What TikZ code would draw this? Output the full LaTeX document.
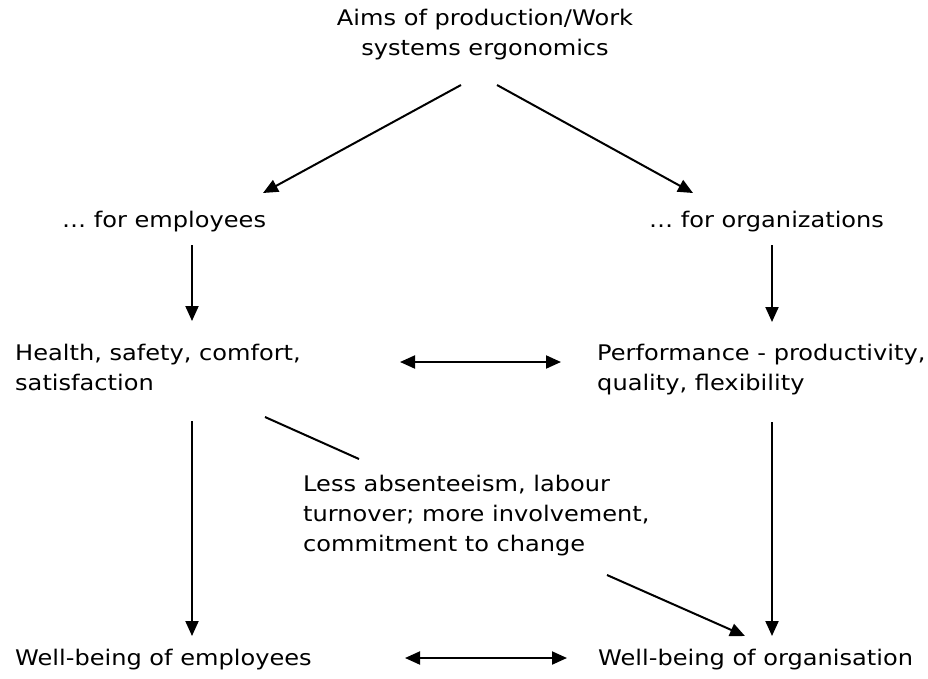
\documentclass[tikz,border=0pt]{standalone}
\usepackage{fontspec}
\setmainfont{DejaVu Sans}[FakeStretch=1.12]
\usetikzlibrary{arrows.meta}
\begin{document}
\begin{tikzpicture}[x=1pt,y=-1pt,
  lbl/.style={inner sep=0pt,align=left,font=\fontsize{21.5}{30}\selectfont},
  ctr/.style={inner sep=0pt,align=center,font=\fontsize{21.5}{30}\selectfont},
  conn/.style={line width=2pt},
  arr/.style={conn,-{Triangle[length=15pt,width=13pt]}},
  darr/.style={conn,{Triangle[length=15pt,width=13pt]}-{Triangle[length=15pt,width=13pt]}}]
\useasboundingbox (0,0) rectangle (928,678);
% base anchor of a multi-line node lies on its last line
\node[ctr,anchor=base] (aims) at (485,55) {Aims of production/Work\\systems ergonomics};
\node[lbl,anchor=base west] (femp) at (62,227) {\dots\ for employees};
\node[lbl,anchor=base west] (forg) at (649,227) {\dots\ for organizations};
\node[lbl,anchor=base west] (hlth) at (15,390) {Health, safety, comfort,\\satisfaction};
\node[lbl,anchor=base west] (perf) at (597,390) {Performance - productivity,\\quality, flexibility};
\node[lbl,anchor=base west] (less) at (303,551) {Less absenteeism, labour\\turnover; more involvement,\\commitment to change};
\node[lbl,anchor=base west] (wemp) at (15,665) {Well-being of employees};
\node[lbl,anchor=base west] (worg) at (598,665) {Well-being of organisation};
% coordinates for connector ends
\coordinate (a1) at (461,85); \coordinate (a1e) at (263,193);
\coordinate (a2) at (497,85); \coordinate (a2e) at (693,193);
\coordinate (v1) at (192,245); \coordinate (v1e) at (192,321);
\coordinate (v2) at (772,245); \coordinate (v2e) at (772,322);
\coordinate (h1) at (400,362); \coordinate (h1e) at (561,362);
\coordinate (v3) at (192,421); \coordinate (v3e) at (192,636);
\coordinate (v4) at (772,422); \coordinate (v4e) at (772,636);
\coordinate (d1) at (265,417); \coordinate (d1e) at (359,459);
\coordinate (d2) at (607,575); \coordinate (d2e) at (745,636);
\coordinate (b1) at (405,658); \coordinate (b1e) at (567,658);
\draw[arr] (a1) -- (a1e);
\draw[arr] (a2) -- (a2e);
\draw[arr] (v1) -- (v1e);
\draw[arr] (v2) -- (v2e);
\draw[darr] (h1) -- (h1e);
\draw[arr] (v3) -- (v3e);
\draw[arr] (v4) -- (v4e);
\draw[conn] (d1) -- (d1e);
\draw[arr] (d2) -- (d2e);
\draw[darr] (b1) -- (b1e);
\end{tikzpicture}
\end{document}
